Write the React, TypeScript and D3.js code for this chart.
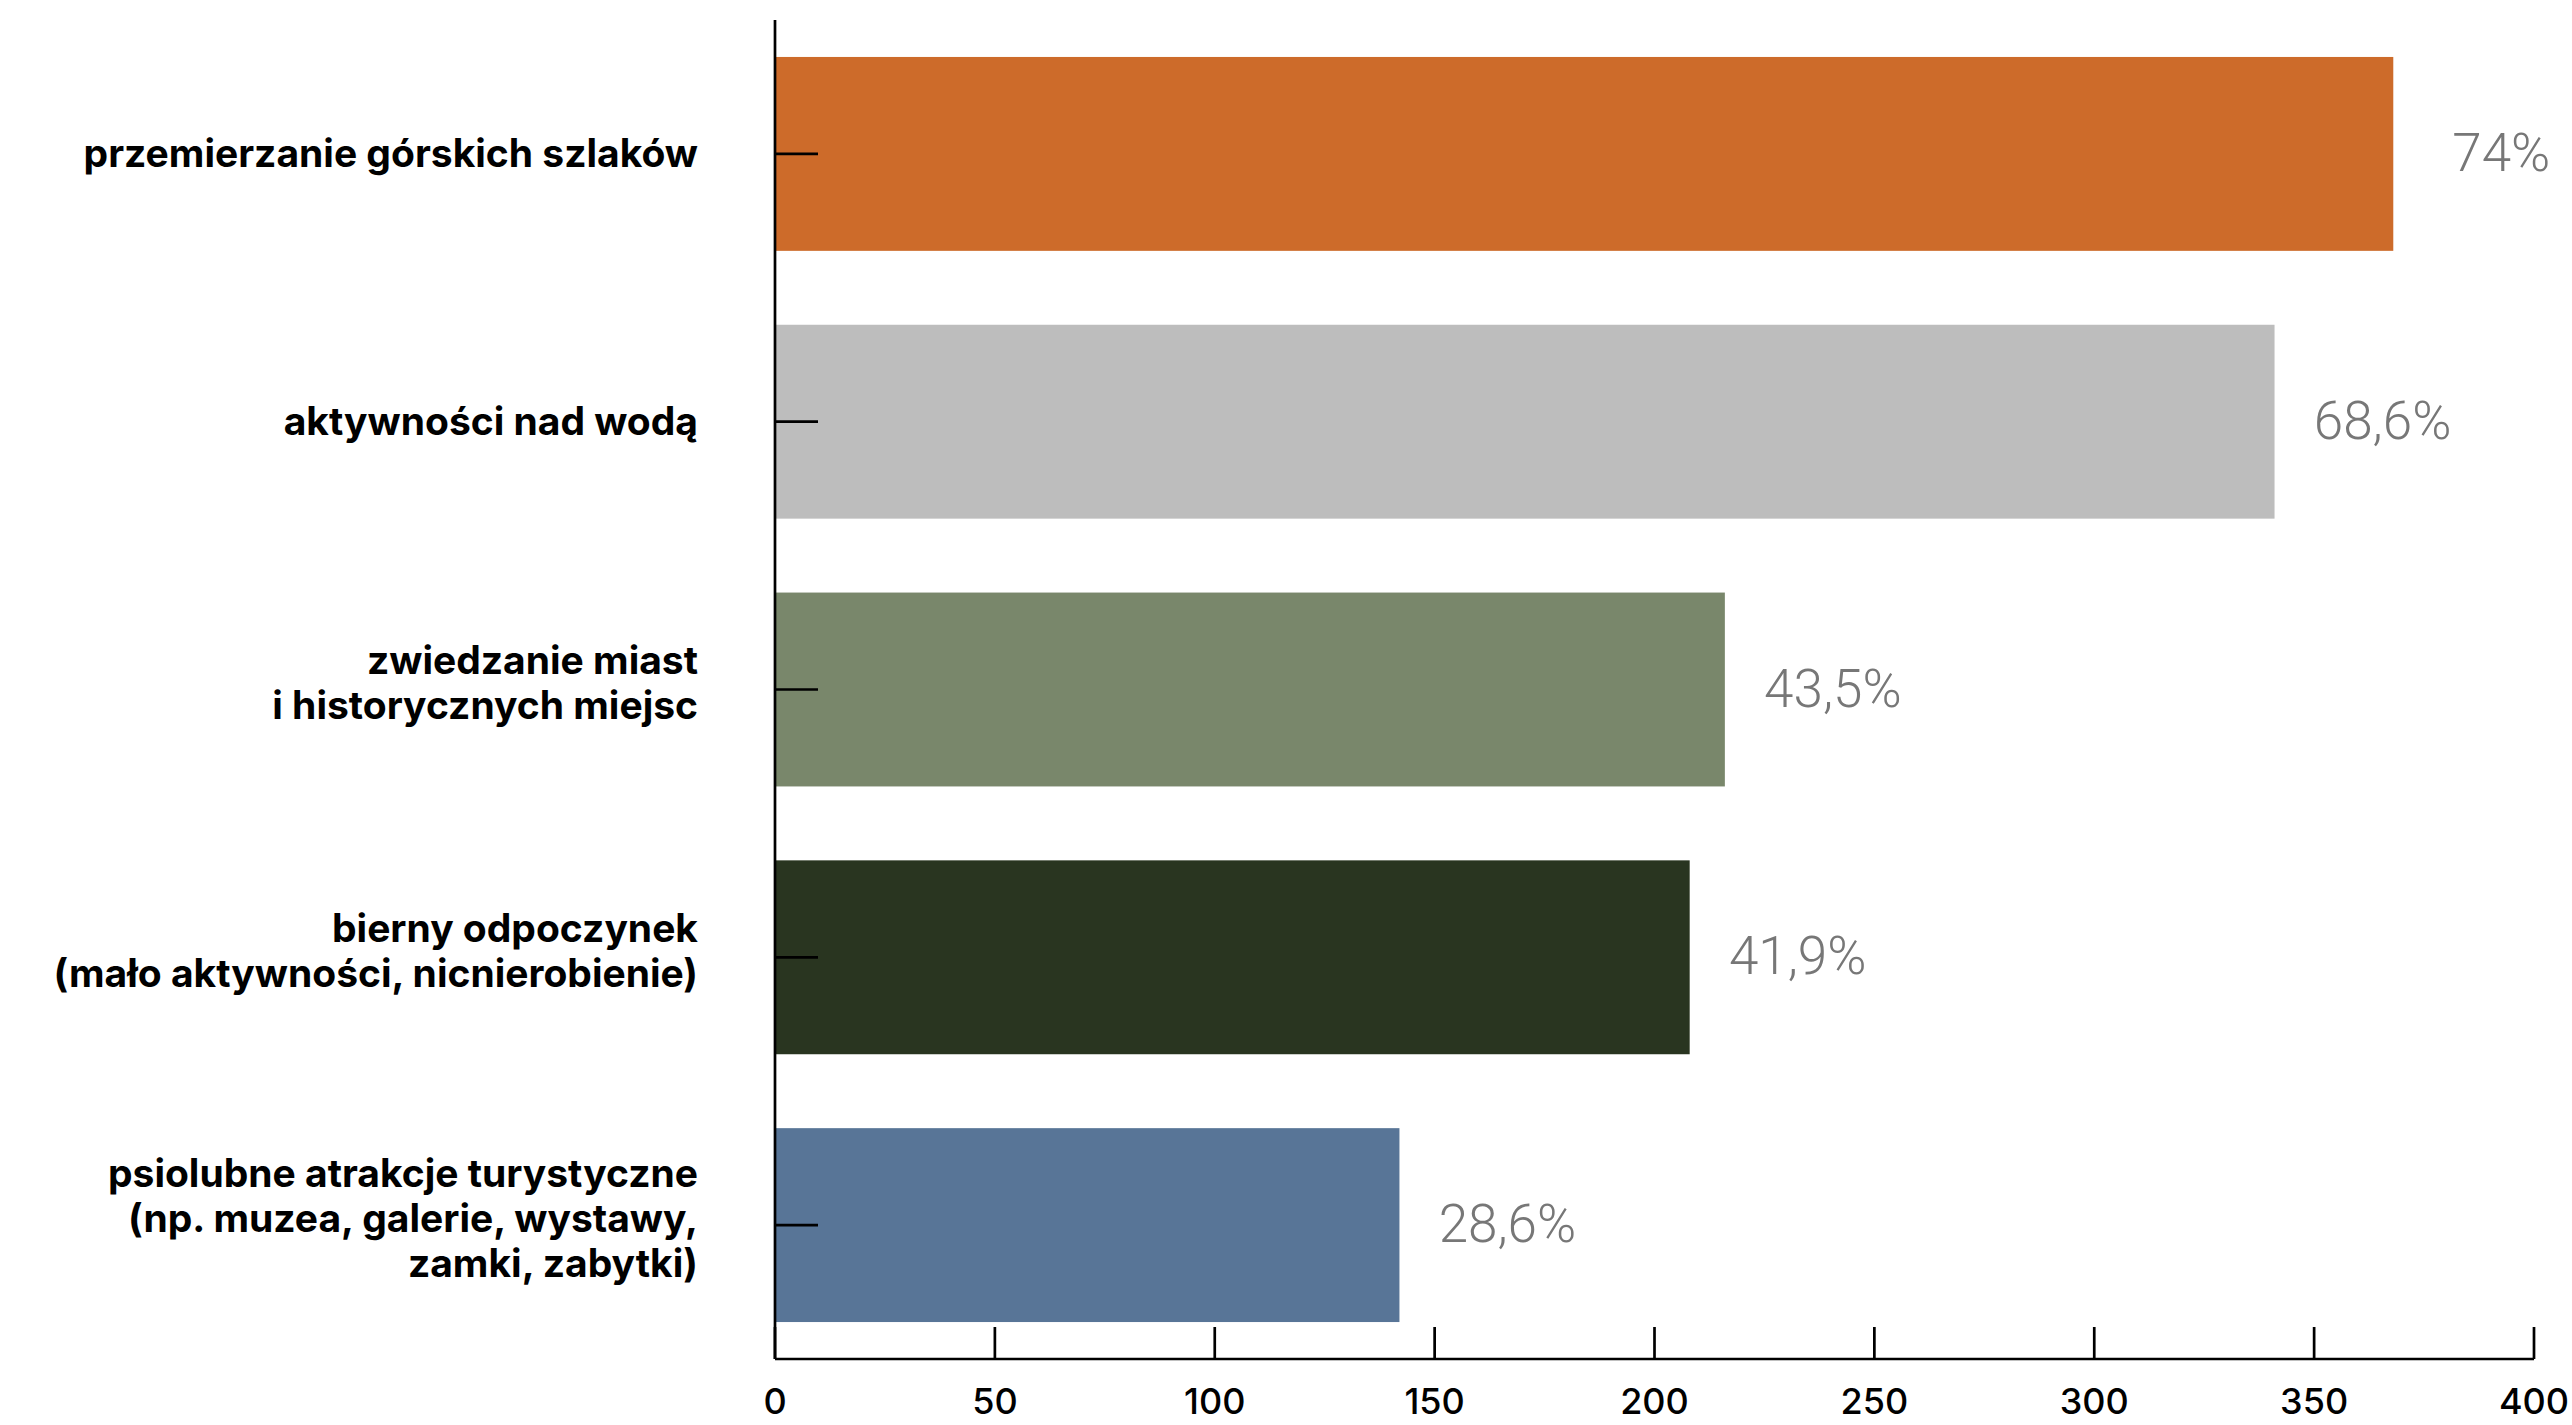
import React, { useEffect } from "react";
import * as d3 from "d3";

const categories: string[][] = [
  ["przemierzanie górskich szlaków"],
  ["aktywności nad wodą"],
  ["zwiedzanie miast", "i historycznych miejsc"],
  ["bierny odpoczynek", "(mało aktywności, nicnierobienie)"],
  ["psiolubne atrakcje turystyczne", "(np. muzea, galerie, wystawy,", "zamki, zabytki)"],
];
const values: number[] = [368, 341, 216, 208, 142];
const percentLabels: string[] = ["74%", "68,6%", "43,5%", "41,9%", "28,6%"];
const colors: string[] = ["#CD6B2A", "#BDBDBD", "#79876B", "#293520", "#587597"];
const xTicks: number[] = [0, 50, 100, 150, 200, 250, 300, 350, 400];

const W = 2572;
const H = 1425;
const left = 775;
const right = 2534;
const top = 20;
const bottom = 1359;

export default function App() {
  useEffect(() => {
    document.body.style.margin = "0";
    document.body.style.overflow = "hidden";
  }, []);

  const x = d3.scaleLinear().domain([0, 400]).range([left, right]);
  const y = d3
    .scaleBand<number>()
    .domain(d3.range(values.length))
    .range([top, bottom])
    .paddingInner(0.276)
    .paddingOuter(0.138);

  const labelFont = "Inter, 'Noto Sans', sans-serif";
  const lineH = 45;

  return (
    <svg width={W} height={H} style={{ position: "absolute", left: 0, top: 0, background: "#fff" }}>
      {values.map((v, i) => (
        <rect
          key={"b" + i}
          x={x(0)}
          y={y(i)!}
          width={x(v) - x(0)}
          height={y.bandwidth()}
          fill={colors[i]}
        />
      ))}
      {/* y axis */}
      <line x1={left} x2={left} y1={top} y2={bottom} stroke="#000" strokeWidth={2.7} />
      {values.map((_, i) => {
        const cy = y(i)! + y.bandwidth() / 2;
        return <line key={"yt" + i} x1={left} x2={left + 43} y1={cy} y2={cy} stroke="#000" strokeWidth={2.7} />;
      })}
      {/* x axis */}
      <line x1={left} x2={right} y1={bottom} y2={bottom} stroke="#000" strokeWidth={2.7} />
      {xTicks.map((t) => (
        <g key={"xt" + t}>
          <line x1={x(t)} x2={x(t)} y1={bottom} y2={bottom - 32} stroke="#000" strokeWidth={2.7} />
          <text
            x={x(t)}
            y={1414}
            textAnchor="middle"
            fontFamily={labelFont}
            fontSize={36}
            fontWeight={500}
            fill="#000"
          >
            {t}
          </text>
        </g>
      ))}
      {/* category labels */}
      {categories.map((lines, i) => {
        const cy = y(i)! + y.bandwidth() / 2;
        const n = lines.length;
        const offset = n === 1 ? 0 : -6;
        return (
          <text
            key={"c" + i}
            textAnchor="end"
            fontFamily={labelFont}
            fontSize={39}
            fontWeight={700}
            fill="#000"
          >
            {lines.map((ln, j) => (
              <tspan key={j} x={698} y={cy + offset + (j - (n - 1) / 2) * lineH + 13}>
                {ln}
              </tspan>
            ))}
          </text>
        );
      })}
      {/* value labels */}
      {values.map((v, i) => {
        const cy = y(i)! + y.bandwidth() / 2;
        return (
          <text
            key={"v" + i}
            x={x(v) + 108}
            y={cy + 17}
            textAnchor="middle"
            fontFamily="Roboto, 'Liberation Sans', sans-serif"
            fontWeight={300}
            fontSize={53}
            fill="#777777"
          >
            {percentLabels[i]}
          </text>
        );
      })}
    </svg>
  );
}
